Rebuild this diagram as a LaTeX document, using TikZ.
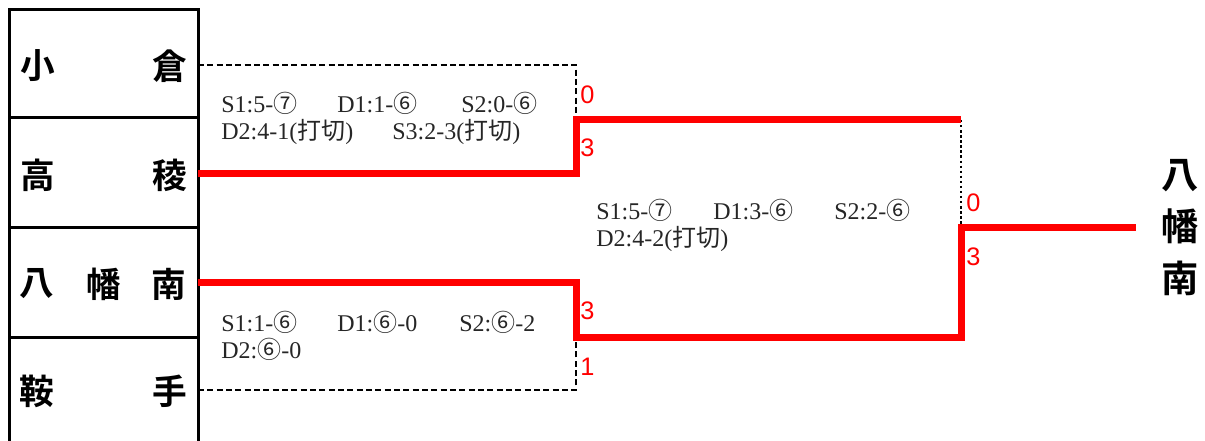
\documentclass[tikz,border=0pt]{standalone}
\usepackage{fontspec}
\setmainfont{Liberation Serif}
\newfontfamily\jp{Noto Sans CJK JP}
\newfontfamily\jpb{Noto Sans CJK JP Bold}
\newfontfamily\scorefont{Liberation Sans}
\newcommand{\cn}[1]{{\jp #1}}
\tikzset{
    win/.style={red,line width=5.25pt},
    lose/.style={black,line width=2pt,dashed,dash pattern=on 4.5pt off 2.5pt},
    rec/.style={anchor=base west,font=\fontsize{18}{21}\selectfont,text=black!85,inner sep=0pt},
    team/.style={font=\jpb\fontsize{26}{28}\selectfont,inner sep=0pt},
    score/.style={anchor=west,red,font=\scorefont\fontsize{19}{21}\selectfont,inner sep=0pt},
}

\begin{document}
\begin{tikzpicture}[x=0.75pt,y=-0.75pt]
        \useasboundingbox (0,0) rectangle (1205,441);
        % team table
        \draw[line width=2.25pt] (9,445) -- (9,10) -- (198,10) -- (198,445);
        \draw[line width=2.25pt] (9,118) -- (198,118) (9,228) -- (198,228) (9,337) -- (198,337);
        \node[team] (ko1) at (38,66) {小};
        \node[team] (ko2) at (170,66) {倉};
        \node[team] (ta1) at (38,175) {高};
        \node[team] (ta2) at (170,175) {稜};
        \node[team] (ya1) at (37,284) {八};
        \node[team] (ya2) at (104,284) {幡};
        \node[team] (ya3) at (169,284) {南};
        \node[team] (ku1) at (37,391) {鞍};
        \node[team] (ku2) at (170,391) {手};
        \node[team,align=center,font=\jpb\fontsize{28}{39}\selectfont] (champ) at (1180,228) {八\\幡\\南};
        % bracket
        \coordinate (kokura) at (198,65);
        \coordinate (takaryo) at (198,174);
        \coordinate (yahata) at (198,283);
        \coordinate (kurate) at (198,390);
        \coordinate (m1) at (576,120);
        \coordinate (m2) at (576,337);
        \coordinate (m3top) at (961,120);
        \coordinate (m3) at (961,228);
        \coordinate (fin) at (1136,228);
        \draw[lose] (kokura) -| (m1);
        \draw[lose] (kurate) -| (m2);
        \draw[black,line width=1.8pt,dotted] (m3top) -- (m3);
        \draw[win] (takaryo) -| (m1) -- (m3top);
        \draw[win] (yahata) -| (m2) -| (m3) -- (fin);
        % scores
        \node[score] (s1a) at (580,95) {0};
        \node[score] (s1b) at (580,148) {3};
        \node[score] (s2a) at (580,311) {3};
        \node[score] (s2b) at (580,367) {1};
        \node[score] (s3a) at (966,203) {0};
        \node[score] (s3b) at (966,257) {3};
        % match records
        \node[rec] (r1a) at (221,113) {S1:5-\cn{⑦}};
        \node[rec] (r1b) at (337,113) {D1:1-\cn{⑥}};
        \node[rec] (r1c) at (461,113) {S2:0-\cn{⑥}};
        \node[rec] (r1d) at (221,140) {D2:4-1(\cn{打切})};
        \node[rec] (r1e) at (392,140) {S3:2-3(\cn{打切})};
        \node[rec] (r2a) at (221,331) {S1:1-\cn{⑥}};
        \node[rec] (r2b) at (337,331) {D1:\cn{⑥}-0};
        \node[rec] (r2c) at (459,331) {S2:\cn{⑥}-2};
        \node[rec] (r2d) at (221,358) {D2:\cn{⑥}-0};
        \node[rec] (r3a) at (596,220) {S1:5-\cn{⑦}};
        \node[rec] (r3b) at (713,220) {D1:3-\cn{⑥}};
        \node[rec] (r3c) at (834,220) {S2:2-\cn{⑥}};
        \node[rec] (r3d) at (596,247) {D2:4-2(\cn{打切})};
    \end{tikzpicture}
\end{document}
